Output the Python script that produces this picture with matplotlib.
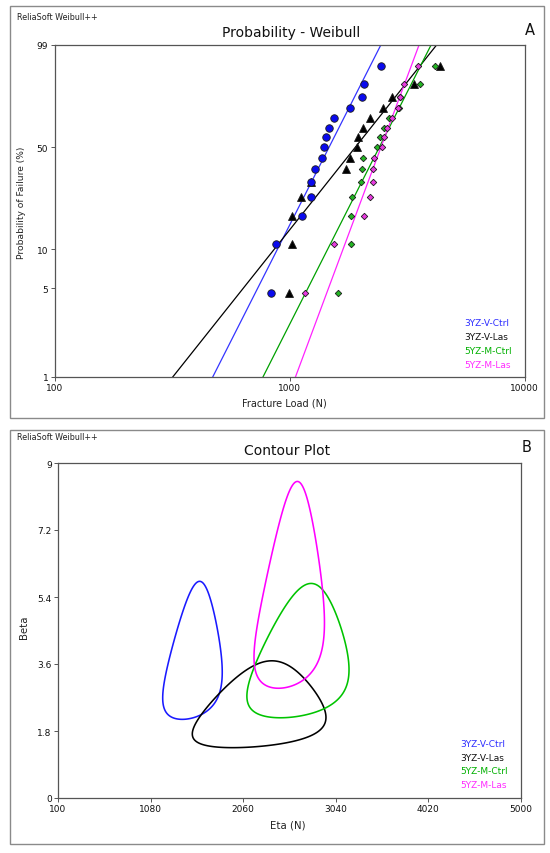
import numpy as np
import matplotlib
matplotlib.use("Agg")
import matplotlib.pyplot as plt
from matplotlib.patches import Rectangle
from matplotlib.ticker import NullLocator

plt.rcParams['font.family'] = ['DejaVu Sans']

# ---------------- data ----------------
series = ['3YZ-V-Ctrl', '3YZ-V-Las', '5YZ-M-Ctrl', '5YZ-M-Las']
load_3yz_v_ctrl = [838, 880, 1125, 1229, 1236, 1279, 1377, 1404, 1435, 1468, 1542, 1810, 2032, 2078, 2448]
load_3yz_v_las = [993, 1020, 1027, 1114, 1230, 1735, 1810, 1928, 1947, 2046, 2204, 2497, 2737, 3378, 4388]
load_5yz_m_ctrl = [1615, 1823, 1828, 1853, 2012, 2041, 2051, 2347, 2424, 2529, 2658, 2932, 2967, 3594, 4166]
load_5yz_m_las = [1159, 1552, 2085, 2191, 2256, 2263, 2297, 2465, 2529, 2597, 2720, 2886, 2961, 3080, 3514]
fail_prob = [4.55, 11.04, 17.53, 24.03, 30.52, 37.01, 43.51, 50.0, 56.49, 62.99, 69.48, 75.97, 82.47, 88.96, 95.45]
line_beta = [3.72, 2.37, 3.72, 5.06]
line_eta = [1627, 2227, 2662, 2636]
# centre (eta, beta) of each likelihood contour
contour_eta_hat = [1500, 2135, 2600, 2530]
contour_beta_hat = [3.75, 2.39, 3.77, 5.38]
chi2_crit = 6.635  # likelihood-ratio contour level

prob_ticks = [1, 5, 10, 50, 99]
load_ticks = [100, 1000, 10000]
eta_ticks = [100, 1080, 2060, 3040, 4020, 5000]
beta_ticks = [0, 1.8, 3.6, 5.4, 7.2, 9]
beta_ticklabels = ['0', '1.8', '3.6', '5.4', '7.2', '9']

loads = [load_3yz_v_ctrl, load_3yz_v_las, load_5yz_m_ctrl, load_5yz_m_las]

# ---------------- styles ----------------
marker_styles = ['o', '^', 'D', 'D']
marker_sizes = [5.4, 5.2, 3.3, 3.3]
marker_faces = ['#0a0aee', '#000000', '#22b522', '#e83ae0']
line_colors = ['#3535ff', '#000000', '#00a000', '#ff22ff']
text_colors = ['#2d2dff', '#111111', '#00b000', '#ff2bff']
contour_colors = ['#1a1aff', '#000000', '#00c400', '#ff00ff']
zorders = [7, 4, 5, 6]

W, H = 550, 854
fig = plt.figure(figsize=(W / 100, H / 100), dpi=100)


def fx(px):
    return px / W


def fy(py):
    return 1 - py / H


for (x0, y0, x1, y1) in [(10, 7, 544, 419), (10, 431, 544, 845)]:
    fig.add_artist(Rectangle((fx(x0), fy(y1)), fx(x1) - fx(x0), fy(y0) - fy(y1),
                             transform=fig.transFigure, fill=False,
                             edgecolor='#8a8a8a', linewidth=1.0))

spine_col = '#555555'


def style_axes(ax):
    for s in ax.spines.values():
        s.set_color(spine_col)
        s.set_linewidth(0.9)
    ax.tick_params(axis='both', which='major', direction='out', length=3,
                   width=0.7, color=spine_col, labelsize=6.5, pad=1.5,
                   labelcolor='#111111')
    ax.tick_params(top=False, right=False)


# ---------------- Panel A: Weibull probability plot ----------------
axA = fig.add_axes([fx(54.5), fy(377.5), fx(524.5) - fx(54.5), fy(45.5) - fy(377.5)])


def fwd(p):
    p = np.clip(np.asarray(p, float), 1e-9, 100 - 1e-9)
    return np.log(-np.log(1 - p / 100.0))


def inv(q):
    return 100.0 * (1 - np.exp(-np.exp(q)))


axA.set_xscale('log')
axA.set_yscale('function', functions=(fwd, inv))

for i in range(4):
    b, e = line_beta[i], line_eta[i]
    F_end = np.array([0.3, 99.95])
    x_end = e * (-np.log(1 - F_end / 100.0)) ** (1.0 / b)
    axA.plot(x_end, F_end, color=line_colors[i], lw=0.9, zorder=2)

for i in range(4):
    axA.plot(loads[i], fail_prob, linestyle='none', marker=marker_styles[i],
             ms=marker_sizes[i], mfc=marker_faces[i], mec='#1a1a1a', mew=0.6,
             zorder=zorders[i], clip_on=False)

axA.set_xlim(100, 10000)
axA.set_ylim(1, 99)
axA.set_xticks(load_ticks)
axA.set_xticklabels([str(t) for t in load_ticks])
axA.set_yticks(prob_ticks)
axA.set_yticklabels([str(t) for t in prob_ticks])
axA.xaxis.set_minor_locator(NullLocator())
axA.yaxis.set_minor_locator(NullLocator())
style_axes(axA)

# ---------------- Panel B: likelihood contours ----------------
axB = fig.add_axes([fx(58), fy(799), fx(521) - fx(58), fy(464) - fy(799)])

eta_grid = np.linspace(100, 5000, 800)
beta_grid = np.linspace(0.02, 9, 800)
E, B = np.meshgrid(eta_grid, beta_grid)


def weibull_mle(x):
    n = x.size
    S = np.log(x).sum()
    bs = np.linspace(0.3, 25, 60000)
    eta_b = np.mean(x[:, None] ** bs[None, :], axis=0) ** (1.0 / bs)
    Lp = n * np.log(bs) - n * bs * np.log(eta_b) + (bs - 1) * S - n
    k = np.argmax(Lp)
    return eta_b[k], bs[k], Lp[k]


for i in range(4):
    x = np.asarray(loads[i], float)
    eta_m, beta_m, _ = weibull_mle(x)
    # place the sample's likelihood shape at the contour centre
    xc = contour_eta_hat[i] * (x / eta_m) ** (beta_m / contour_beta_hat[i])
    _, _, Lmax = weibull_mle(xc)
    n = xc.size
    S = np.log(xc).sum()
    L = (n * np.log(B) - n * B * np.log(E) + (B - 1) * S
         - ((xc[:, None, None] / E[None]) ** B[None]).sum(0))
    axB.contour(E, B, L, levels=[Lmax - chi2_crit / 2.0], colors=[contour_colors[i]],
                linewidths=1.15, linestyles='solid')

axB.set_xlim(100, 5000)
axB.set_ylim(0, 9)
axB.set_xticks(eta_ticks)
axB.set_xticklabels([str(t) for t in eta_ticks])
axB.set_yticks(beta_ticks)
axB.set_yticklabels(beta_ticklabels)
style_axes(axB)

# ---------------- texts ----------------
for yy in (18, 438):
    fig.text(fx(17), fy(yy), 'ReliaSoft Weibull++', fontsize=5.8, ha='left', va='center', color='#222222')

fig.text(fx(291), fy(32.5), 'Probability - Weibull', fontsize=10, ha='center', va='center', color='#111111')
fig.text(fx(287), fy(451), 'Contour Plot', fontsize=10, ha='center', va='center', color='#111111')
fig.text(fx(530), fy(30.5), 'A', fontsize=10.5, ha='center', va='center', color='#111111')
fig.text(fx(527), fy(447.5), 'B', fontsize=10.5, ha='center', va='center', color='#111111')

fig.text(fx(284), fy(404), 'Fracture Load (N)', fontsize=7, ha='center', va='center', color='#222222')
fig.text(fx(22), fy(203), 'Probability of Failure (%)', fontsize=6.6, ha='center', va='center',
         rotation=90, color='#222222')
fig.text(fx(288), fy(826), 'Eta (N)', fontsize=7.3, ha='center', va='center', color='#222222')
fig.text(fx(24), fy(627), 'Beta', fontsize=7.3, ha='center', va='center', rotation=90, color='#222222')

legA_y = [323.5, 337.7, 351.7, 365.5]
legB_y = [744.3, 758.3, 772.0, 785.7]
for i in range(4):
    fig.text(fx(464), fy(legA_y[i]), series[i], fontsize=6.5, ha='left', va='center', color=text_colors[i])
    fig.text(fx(460), fy(legB_y[i]), series[i], fontsize=6.5, ha='left', va='center', color=text_colors[i])

fig.savefig('out.png', dpi=100)
